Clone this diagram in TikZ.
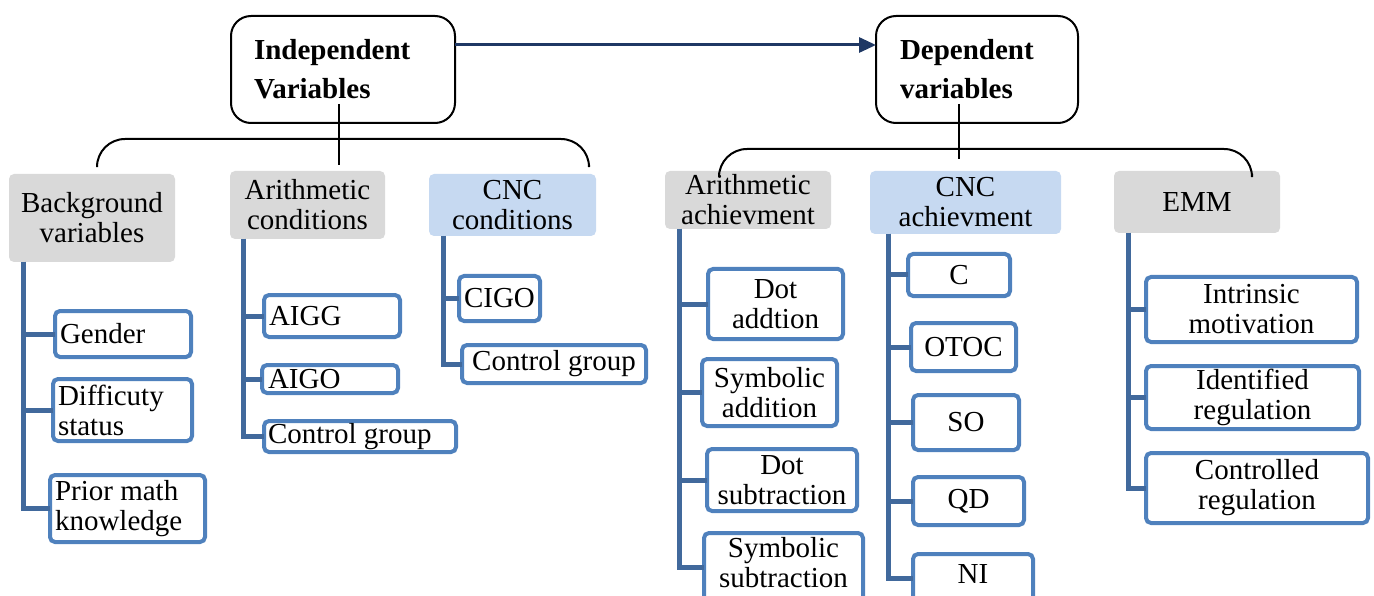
\documentclass[tikz,border=0pt]{standalone}
\usepackage{fontspec}
\setmainfont{Liberation Serif}
\usetikzlibrary{arrows.meta,calc}
\definecolor{catgray}{HTML}{D9D9D9}
\definecolor{catblue}{HTML}{C6D9F1}
\definecolor{leafblue}{HTML}{4F81BD}
\definecolor{spineblue}{HTML}{41699C}
\definecolor{navy}{HTML}{1F3864}

\begin{document}
\begin{tikzpicture}[x=1pt,y=-1pt,
  every node/.style={font=\fontsize{29}{30}\selectfont, inner sep=0pt, outer sep=0pt},
  head/.style={draw=black, line width=2pt, rounded corners=20pt, align=flush left,
    font=\fontsize{29}{39}\selectfont\bfseries},
  cat/.style={fill=#1, rounded corners=5pt, align=center},
  leaf/.style={draw=leafblue, line width=4pt, rounded corners=5pt, fill=white, align=center},
  leafL/.style={leaf, align=flush left, inner xsep=5pt, text width=#1},
  spine/.style={draw=spineblue, line width=5pt, line join=miter},
  brace/.style={draw=black, line width=2pt, rounded corners=28pt},
  stem/.style={draw=black, line width=1.5pt},
  link/.style={draw=navy, line width=3pt, -{Triangle[length=17pt,width=15pt]}},
]
\useasboundingbox (0,0) rectangle (1374,596);

% ---- top level ----
\node[head, inner xsep=23pt, text width=178pt, minimum height=107pt] (indep) at (343,69.5) {Independent\\Variables};
\node[head, inner xsep=24pt, text width=154pt, minimum height=107pt] (dep) at (977,69.5) {Dependent\\variables};
\draw[link] ([yshift=24.5pt]indep.east) -- ([yshift=24.5pt]dep.west);

% ---- categories ----
\node[cat=catgray, minimum width=166pt, minimum height=88pt] (bg) at (92,218) {Background\\variables};
\node[cat=catgray, minimum width=155pt, minimum height=68pt] (arc) at (307.5,205) {Arithmetic\\conditions};
\node[cat=catblue, minimum width=167pt, minimum height=62pt] (cncc) at (512.5,205) {CNC\\conditions};
\node[cat=catgray, minimum width=166pt, minimum height=58pt] (aach) at (748,200) {Arithmetic\\achievment};
\node[cat=catblue, minimum width=191pt, minimum height=63pt] (cach) at (965.5,202.5) {CNC\\achievment};
\node[cat=catgray, minimum width=166pt, minimum height=62pt] (emm) at (1197,202) {EMM};

% ---- brackets joining the top boxes to their categories ----
\coordinate (iStemTop) at (339,104);
\coordinate (iStemBot) at (339,165);
\coordinate (iBL) at (97,165);
\coordinate (iBR) at (589,165);
\draw[stem] (iStemTop) -- (iStemBot);
\draw[brace] (iBL) |- (339,139) -| (iBR);

\coordinate (dStemTop) at (959,104);
\coordinate (dStemBot) at (959,159);
\coordinate (dBL) at (719,173);
\coordinate (dBR) at (1252,174);
\draw[stem] (dStemTop) -- (dStemBot);
\draw[brace] (dBL) |- (959,149) -| (dBR);

% ---- spine start points ----
\coordinate (bgS) at ([xshift=14pt]bg.south west);
\coordinate (arcS) at ([xshift=13pt]arc.south west);
\coordinate (cnccS) at ([xshift=14pt]cncc.south west);
\coordinate (aachS) at ([xshift=14pt]aach.south west);
\coordinate (cachS) at ([xshift=18pt]cach.south west);
\coordinate (emmS) at ([xshift=14pt]emm.south west);

% ---- leaves: background variables ----
\node[leafL=126pt, minimum height=46pt] (gender) at (123,334) {Gender};
\node[leafL=129pt, minimum height=62pt] (diff) at (122.5,410) {Difficuty\\status};
\node[leafL=145pt, minimum height=67pt] (prior) at (127.5,508.5) {Prior math\\knowledge};

% ---- leaves: arithmetic conditions ----
\node[leafL=126pt, minimum height=42pt] (aigg) at (332,316) {AIGG};
\node[leafL=124pt, inner xsep=6pt, minimum height=28pt] (aigo) at (330,379) {AIGO};
\node[leafL=184pt, inner xsep=4pt, minimum height=31pt] (ctlA) at (360,436.5) {Control group};

% ---- leaves: CNC conditions ----
\node[leafL=71pt, minimum height=45pt] (cigo) at (499.5,298.5) {CIGO};
\node[leaf, minimum width=184pt, minimum height=38pt] (ctlB) at (554,364) {Control group};

% ---- leaves: arithmetic achievement ----
\node[leaf, minimum width=135pt, minimum height=70pt] (dotadd) at (775.5,304) {Dot\\addtion};
\node[leaf, minimum width=135pt, minimum height=67pt] (symadd) at (769.5,392.5) {Symbolic\\addition};
\node[leaf, minimum width=150pt, minimum height=62pt] (dotsub) at (782,480) {Dot\\subtraction};
\node[leaf, minimum width=159pt, minimum height=69pt, text depth=10pt] (symsub) at (783.5,567.5) {Symbolic\\subtraction};

% ---- leaves: CNC achievement ----
\node[leaf, minimum width=102pt, minimum height=42pt] (c) at (959,275) {C};
\node[leaf, minimum width=105pt, minimum height=48pt] (otoc) at (963.5,347) {OTOC};
\node[leaf, minimum width=106pt, minimum height=55pt] (so) at (966,422.5) {SO};
\node[leaf, minimum width=111pt, minimum height=48pt] (qd) at (968.5,501) {QD};
\node[leaf, minimum width=120pt, minimum height=48pt, text depth=8.5pt] (ni) at (973,578) {NI};

% ---- leaves: EMM ----
\node[leaf, minimum width=211pt, minimum height=65pt] (intr) at (1251.5,309.5) {Intrinsic\\motivation};
\node[leaf, minimum width=213pt, minimum height=63pt] (ident) at (1252.5,397.5) {Identified\\regulation};
\node[leaf, minimum width=222pt, minimum height=70pt] (ctrl) at (1257,488) {Controlled\\regulation};

% ---- spines ----
\foreach \s/\l in {bgS/gender, bgS/diff, bgS/prior,
                   arcS/aigg, arcS/aigo, arcS/ctlA,
                   cnccS/cigo, cnccS/ctlB,
                   aachS/dotadd, aachS/symadd, aachS/dotsub, aachS/symsub,
                   cachS/c, cachS/otoc, cachS/so, cachS/qd, cachS/ni,
                   emmS/intr, emmS/ident, emmS/ctrl}
  \draw[spine] (\s) |- (\l.west);
\end{tikzpicture}
\end{document}
